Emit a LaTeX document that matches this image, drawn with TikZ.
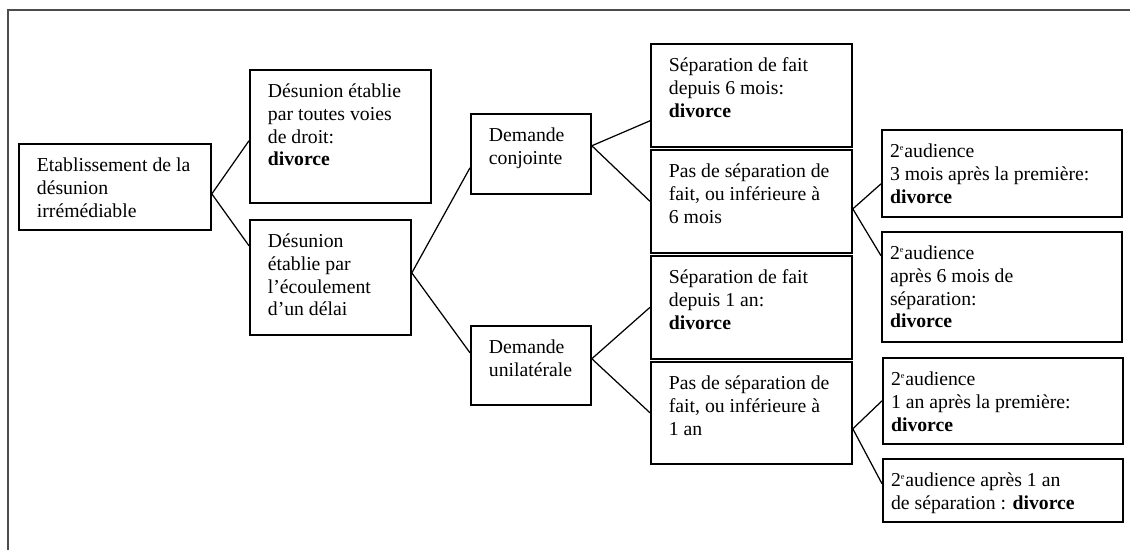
\documentclass[tikz,border=0pt]{standalone}
\usepackage{fontspec}
\setmainfont{Liberation Serif}
\newdimen\unitpx \unitpx=0.6083pt
% text box of fixed size, text at the top
\newcommand{\cell}[3]{\parbox[t][#2\unitpx][t]{#1\unitpx}{\rule{0pt}{17pt}#3}}
\newcommand{\nd}{2\textsuperscript{\tiny e}}
\tikzset{
  box/.style={draw, line width=1pt, anchor=north west, inner xsep=11pt, inner ysep=0pt,
    font=\fontsize{12pt}{13.8pt}\selectfont},
  lastbox/.style={box, inner xsep=5pt},
  link/.style={line width=0.75pt},
  frame/.style={line width=0.7pt, black!70}
}
\begin{document}
\begin{tikzpicture}[x=0.6083pt, y=-0.6083pt]
  \useasboundingbox (0,0) rectangle (1130,550);
  % Open frame (top and left edges only)
  \draw[frame] (1130,10) -- (8,10) -- (8,550);

  % First level
  \node[box] (root) at (18,143) {\cell{156}{86}{Etablissement de la\\ désunion\\ irrémédiable}};
  \node[box] (voies) at (249,69) {\cell{145}{133}{Désunion établie\\ par toutes voies\\ de droit:\\ \textbf{divorce}}};
  \node[box] (ecoul) at (249,219) {\cell{125}{115}{Désunion\\ établie par\\ l’écoulement\\ d’un délai}};

  % Kind of request
  \node[box] (conj) at (470,113) {\cell{84}{80}{Demande\\ conjointe}};
  \node[box] (unil) at (470,325) {\cell{84}{79}{Demande\\ unilatérale}};

  % Separation in fact
  \node[box] (sep6) at (650,43) {\cell{165}{103}{Séparation de fait\\ depuis 6 mois:\\ \textbf{divorce}}};
  \node[box] (pas6) at (650,149) {\cell{165}{103}{Pas de séparation de\\ fait, ou inférieure à\\ 6 mois}};
  \node[box] (sep1) at (650,255) {\cell{165}{103}{Séparation de fait\\ depuis 1 an:\\ \textbf{divorce}}};
  \node[box] (pas1) at (650,361) {\cell{165}{102}{Pas de séparation de\\ fait, ou inférieure à\\ 1 an}};

  % Second hearing
  \node[lastbox] (aud3) at (881,129) {\cell{224}{87}{\nd audience\\ 3 mois après la première:\\ \textbf{divorce}}};
  \node[lastbox] (aud6) at (881,231) {\cell{224}{110}{\nd audience\\ après 6 mois de\\ séparation:\\ \textbf{divorce}}};
  \node[lastbox] (aud1) at (882,357) {\cell{224}{86}{\nd audience\\ 1 an après la première:\\ \textbf{divorce}}};
  \node[lastbox] (audsep) at (882,458) {\cell{224}{63}{\nd audience après 1 an\\ de séparation : \textbf{divorce}}};

  % Connectors
  \draw[link] ([yshift=-4.3pt]root.east) -- ([yshift=-2.7pt]voies.west);
  \draw[link] ([yshift=-4.3pt]root.east) -- ([yshift=19.2pt]ecoul.west);
  \draw[link] ([yshift=2.7pt]ecoul.east) -- ([yshift=-8.5pt]conj.west);
  \draw[link] ([yshift=2.7pt]ecoul.east) -- ([yshift=7.6pt]unil.west);
  \draw[link] ([yshift=4.9pt]conj.east) -- ([yshift=-15.5pt]sep6.west);
  \draw[link] ([yshift=4.9pt]conj.east) -- (pas6.west);
  \draw[link] ([yshift=4pt]unil.east) -- (sep1.west);
  \draw[link] ([yshift=4pt]unil.east) -- (pas1.west);
  \draw[link] ([yshift=-4.6pt]pas6.east) -- ([yshift=-6.4pt]aud3.west);
  \draw[link] ([yshift=-4.6pt]pas6.east) -- ([yshift=18.9pt]aud6.west);
  \draw[link] ([yshift=-9.7pt]pas1.east) -- (aud1.west);
  \draw[link] ([yshift=-9.7pt]pas1.east) -- ([yshift=4pt]audsep.west);
\end{tikzpicture}
\end{document}
